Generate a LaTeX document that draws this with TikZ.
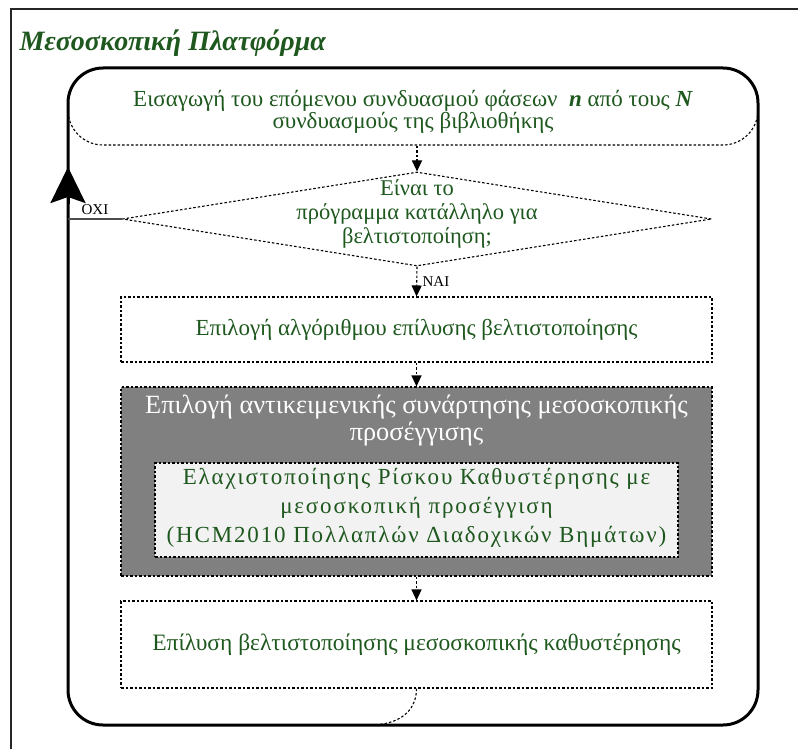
\documentclass[tikz,border=0pt]{standalone}
\usepackage{fontspec}
\setmainfont{Liberation Serif}
\usetikzlibrary{arrows.meta,shapes.geometric}
\definecolor{dgreen}{RGB}{30,88,30}
\definecolor{boxgray}{RGB}{128,128,128}
\definecolor{innergray}{RGB}{242,242,242}

\begin{document}
\begin{tikzpicture}[x=1pt,y=-1pt,
  dotline/.style={line width=1.1pt, dash pattern=on 2.5pt off 2pt},
  stepbox/.style={draw, dotline, minimum width=591pt, inner sep=0pt},
  flowtext/.style={align=center, text=dgreen, font=\fontsize{22.5}{24}\selectfont},
  flow/.style={dotline, -{Triangle[length=11pt,width=10pt]}},
  answer/.style={font=\fontsize{15}{17}\selectfont, text=black},
]
\useasboundingbox (0,0) rectangle (798,749);

% outer panel frame
\draw[line width=1.5pt, black!85] (11,760) -- (11,9) -- (810,9);
\node[anchor=west, font=\bfseries\itshape\fontsize{28}{32}\selectfont, text=dgreen]
  (title) at (16,43) {Μεσοσκοπική Πλατφόρμα};

% first step: next phase combination
\node[draw, dotline, rounded corners=35pt, minimum width=690pt, minimum height=77pt]
  (intro) at (413,106.5) {};
\node[flowtext, font=\fontsize{23}{22}\selectfont] (introtxt) at (413,112)
  {Εισαγωγή του επόμενου συνδυασμού φάσεων \ \textbf{\textit{n}} από τους \textbf{\textit{N}}\\
   συνδυασμούς της βιβλιοθήκης};

% decision
\node[diamond, draw, dotline, minimum width=589pt, minimum height=94pt, inner sep=0pt]
  (dec) at (417,219) {};
\node[flowtext] (dectxt) at (417,214)
  {Είναι το\\ πρόγραμμα κατάλληλο για\\ βελτιστοποίηση;};

% solver choice
\node[stepbox, minimum height=65pt] (solver) at (416.5,329.5) {};
\node[flowtext, font=\fontsize{23}{24}\selectfont] (solvertxt) at (solver.center)
  {Επιλογή αλγόριθμου επίλυσης βελτιστοποίησης};

% objective function choice
\node[stepbox, fill=boxgray, minimum height=189pt] (objective) at (416.5,481.5) {};
\node[align=center, text=white, font=\fontsize{26.3}{27}\selectfont] (objtxt) at (416.5,421)
  {Επιλογή αντικειμενικής συνάρτησης μεσοσκοπικής\\ προσέγγισης};
\node[draw, dotline, fill=innergray, minimum width=523pt, minimum height=94pt, inner sep=0pt]
  (inner) at (416.5,510) {};
\node[flowtext, font=\addfontfeature{LetterSpace=8}\fontsize{23}{29}\selectfont] (innertxt) at (416.5,508)
  {Ελαχιστοποίησης Ρίσκου Καθυστέρησης με\\ μεσοσκοπική προσέγγιση\\ (HCM2010 Πολλαπλών Διαδοχικών Βημάτων)};

% solving
\node[stepbox, minimum height=87pt] (solve) at (416.5,644.5) {};
\node[flowtext, font=\fontsize{23.5}{24}\selectfont] (solvetxt) at (solve.center)
  {Επίλυση βελτιστοποίησης μεσοσκοπικής καθυστέρησης};

% loop frame
\draw[line width=3pt, rounded corners=35pt] (68,68) rectangle (758,725);
\coordinate (arrbase) at (68,204);
\coordinate (arrtip) at (68,167);
\draw[line width=3pt, -{Stealth[length=36pt,width=35pt,inset=6pt]}] (arrbase) -- (arrtip);

% connectors
\draw[flow] (dec.north |- intro.south) -- (dec.north);
\draw[flow] (dec.south) -- (solver.north) node[answer, midway, right=2pt] {ΝΑΙ};
\draw[flow] (solver.south) -- (objective.north);
\draw[flow] (objective.south) -- (solve.north);
\coordinate (loopno) at (68,219);
\draw[line width=1.3pt, black!70] (dec.west) -- (loopno) node[answer, midway, above=0pt] {ΟΧΙ};
\coordinate (loopback) at (370,725);
\draw[dotline] (solve.south) .. controls (416.5,712) and (398,725) .. (loopback);
\end{tikzpicture}
\end{document}
